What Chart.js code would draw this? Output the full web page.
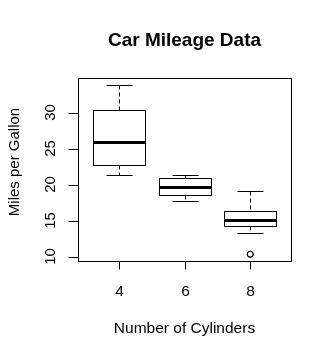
<!DOCTYPE html>
<html>
<head>
<meta charset="utf-8">
<script src="https://cdn.jsdelivr.net/npm/chart.js@4"></script>
<style>
  html, body { margin: 0; padding: 0; background: #fff; }
  #wrap { width: 332px; height: 359px; }
</style>
</head>
<body>
<div id="wrap"><canvas id="chartCanvas" width="332" height="359"></canvas></div>
<script>
// mtcars mpg grouped by cylinders (boxplot five-number summaries)
const cylinders = ["4", "6", "8"];
const whiskerLow = [21.4, 17.8, 13.3];
const lowerHinge = [22.8, 18.65, 14.3];
const medians = [26.0, 19.7, 15.2];
const upperHinge = [30.4, 21.0, 16.4];
const whiskerHigh = [33.9, 21.4, 19.2];
const outliers = [{ group: 2, value: 10.4 }, { group: 2, value: 10.4 }];
const yTicks = [10, 15, 20, 25, 30];

const FONT = "'Liberation Sans', Arial, sans-serif";

const boxPlotExtras = {
  id: "boxPlotExtras",
  afterDatasetsDraw(chart) {
    const { ctx } = chart;
    const x = chart.scales.x;
    const y = chart.scales.y;
    const bars = chart.getDatasetMeta(0).data;
    ctx.save();
    ctx.strokeStyle = "#000";

    cylinders.forEach((c, i) => {
      const cx = Math.round(x.getPixelForValue(i + 1)) + 0.5;
      const half = Math.round(bars[i].width / 2);
      const yHi = Math.round(y.getPixelForValue(whiskerHigh[i])) + 0.5;
      const yLo = Math.round(y.getPixelForValue(whiskerLow[i])) + 0.5;
      const yQ3 = Math.round(y.getPixelForValue(upperHinge[i])) + 0.5;
      const yQ1 = Math.round(y.getPixelForValue(lowerHinge[i])) + 0.5;

      // box outline
      ctx.lineWidth = 1;
      ctx.strokeRect(cx - half, yQ3, half * 2, yQ1 - yQ3);

      // dashed whiskers
      ctx.setLineDash([4, 3]);
      ctx.beginPath();
      ctx.moveTo(cx, yHi); ctx.lineTo(cx, yQ3);
      ctx.moveTo(cx, yQ1); ctx.lineTo(cx, yLo);
      ctx.stroke();

      // staples
      ctx.setLineDash([]);
      ctx.beginPath();
      ctx.moveTo(cx - half / 2, yHi); ctx.lineTo(cx + half / 2, yHi);
      ctx.moveTo(cx - half / 2, yLo); ctx.lineTo(cx + half / 2, yLo);
      ctx.stroke();

      // median
      const yMed = Math.round(y.getPixelForValue(medians[i]));
      ctx.lineWidth = 3;
      ctx.beginPath();
      ctx.moveTo(cx - half, yMed + 0.5); ctx.lineTo(cx + half, yMed + 0.5);
      ctx.stroke();
    });
    ctx.restore();
  },
  afterDraw(chart) {
    const { ctx, chartArea } = chart;
    const x = chart.scales.x;
    const y = chart.scales.y;
    ctx.save();
    ctx.strokeStyle = "#000";
    ctx.fillStyle = "#000";
    ctx.lineWidth = 1;

    // frame
    ctx.strokeRect(Math.round(chartArea.left) + 0.5, Math.round(chartArea.top) + 0.5,
      Math.round(chartArea.right - chartArea.left), Math.round(chartArea.bottom - chartArea.top));

    const left = Math.round(chartArea.left) + 0.5;
    const bottom = Math.round(chartArea.bottom) + 0.5;

    // y axis ticks and rotated labels
    ctx.font = "15px " + FONT;
    ctx.textAlign = "center";
    ctx.textBaseline = "alphabetic";
    yTicks.forEach(v => {
      const py = Math.round(y.getPixelForValue(v)) + 0.5;
      ctx.beginPath();
      ctx.moveTo(left - 10, py); ctx.lineTo(left, py);
      ctx.stroke();
      ctx.save();
      ctx.translate(54.5, py - 1);
      ctx.rotate(-Math.PI / 2);
      ctx.fillText(String(v), 0, 0);
      ctx.restore();
    });

    // x axis ticks and labels
    ctx.font = "15.5px " + FONT;
    cylinders.forEach((c, i) => {
      const px = Math.round(x.getPixelForValue(i + 1)) + 0.5;
      ctx.beginPath();
      ctx.moveTo(px, bottom); ctx.lineTo(px, bottom + 8);
      ctx.stroke();
      ctx.fillText(c, px, 296);
    });

    // axis titles
    ctx.fillText("Number of Cylinders", (chartArea.left + chartArea.right) / 2, 333);
    ctx.save();
    ctx.translate(18.5, 162);
    ctx.rotate(-Math.PI / 2);
    ctx.font = "15px " + FONT;
    ctx.fillText("Miles per Gallon", 0, 0);
    ctx.restore();
    ctx.restore();
  }
};

new Chart(document.getElementById("chartCanvas"), {
  type: "bar",
  data: {
    datasets: [
      {
        label: "box",
        data: cylinders.map((c, i) => ({ x: i + 1, y: [lowerHinge[i], upperHinge[i]] })),
        backgroundColor: "#fff",
        borderWidth: 0,
        barPercentage: 0.8,
        categoryPercentage: 1
      },
      {
        type: "scatter",
        label: "outliers",
        data: outliers.map(o => ({ x: o.group + 1, y: o.value })),
        pointStyle: "circle",
        pointRadius: 3,
        pointBackgroundColor: "rgba(0,0,0,0)",
        pointBorderColor: "#000",
        pointBorderWidth: 1
      }
    ]
  },
  options: {
    responsive: false,
    animation: false,
    layout: { padding: { left: 78, right: 41, top: 0, bottom: 98 } },
    scales: {
      x: {
        type: "linear", display: false, offset: false, min: 0.38, max: 3.62,
        afterBuildTicks: scale => { scale.ticks = cylinders.map((c, i) => ({ value: i + 1 })); }
      },
      y: { type: "linear", display: false, min: 9.46, max: 34.84 }
    },
    plugins: {
      legend: { display: false },
      tooltip: { enabled: false },
      title: {
        display: true,
        fullSize: false,
        text: "Car Mileage Data",
        color: "#000",
        font: { family: FONT, size: 19, weight: "bold" },
        padding: { top: 29.3, bottom: 25.9 }
      }
    }
  },
  plugins: [boxPlotExtras]
});
</script>
</body>
</html>
